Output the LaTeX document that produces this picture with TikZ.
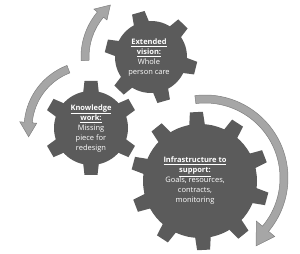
\documentclass[tikz,border=0pt]{standalone}
\usepackage{fontspec}
\setmainfont{Open Sans}
\definecolor{gearcol}{RGB}{91,91,91}
\definecolor{arrcol}{RGB}{166,166,166}
\definecolor{arrline}{RGB}{128,128,128}
% cx, cy, inner radius, outer radius, teeth, phase
\newcommand\drawgear[6]{%
  \begin{scope}[shift={(#1,#2)}]
    \fill[gearcol] (0,0) circle (#3);
    \foreach \k in {1,...,#5}{%
      \pgfmathsetmacro\ang{#6+360/#5*\k}%
      \fill[gearcol, rotate=\ang] (#3-3,-8) -- (#4,-6.5) -- (#4,6.5) -- (#3-3,8) -- cycle;
    }
  \end{scope}}
% cx, cy, mid radius, start, shaft end, tip angle, tip radius, shaft half, head half
\newcommand\blockarrow[9]{%
  \begin{scope}[shift={(#1,#2)}]
    \draw[arrowshape] (#4:#3+#8) arc[start angle=#4, end angle=#5, radius=#3+#8]
      -- (#5:#3+#9) -- (#6:#7) -- (#5:#3-#9) -- (#5:#3-#8)
      arc[start angle=#5, end angle=#4, radius=#3-#8] -- cycle;
  \end{scope}}
\begin{document}
\begin{tikzpicture}[x=1pt,y=1pt,
  arrowshape/.style={fill=arrcol, draw=arrline, line width=0.5pt},
  geartext/.style={align=center, text=white, inner sep=0pt,
    font=\fontsize{7.5}{10}\selectfont}]
\useasboundingbox (0,0) rectangle (300,254);
% arrows
\blockarrow{151}{197}{66}{183}{140}{128}{66}{4}{8.5}
\blockarrow{91}{126}{63}{111}{175}{188}{63}{4}{8.5}
\blockarrow{205}{76}{79}{97}{-40}{-53}{85}{4}{12}
% gears
\drawgear{151}{197}{36}{46}{6}{106}
\drawgear{91}{126}{37}{47}{6}{90}
\drawgear{200}{73}{57}{69}{10}{93}
% texts
\node[geartext] (vision) at (149,196) {\underline{\textbf{Extended}}\\\underline{\textbf{vision:}}\\Whole\\person care};
\node[geartext] (knowledge) at (91,125.5) {\underline{\textbf{Knowledge}}\\\underline{\textbf{work:}}\\Missing\\piece for\\redesign};
\node[geartext] (infra) at (195,73) {\underline{\textbf{Infrastructure to}}\\\underline{\textbf{support:}}\\Goals, resources,\\contracts,\\monitoring};
\end{tikzpicture}
\end{document}
